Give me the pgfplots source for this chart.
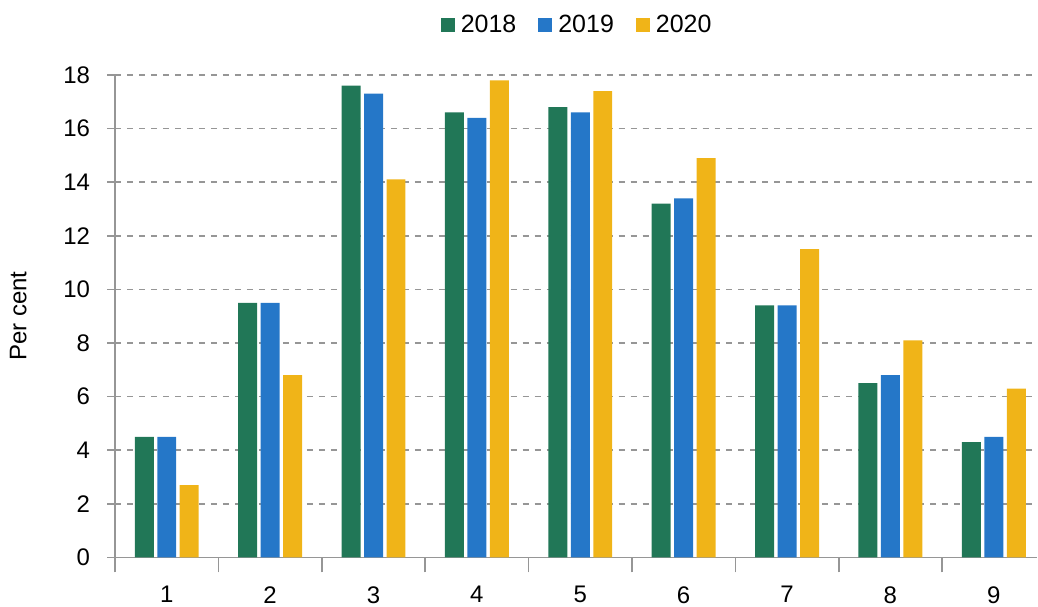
\documentclass[border=0pt]{standalone}
\usepackage{fontspec}
\setmainfont{Liberation Sans}
\usepackage{pgfplots}
\pgfplotsset{compat=1.18}
\definecolor{c2018}{RGB}{33,119,87}
\definecolor{c2019}{RGB}{37,119,200}
\definecolor{c2020}{RGB}{240,180,24}
\definecolor{gridgray}{RGB}{150,150,150}

\begin{document}
\begin{tikzpicture}
\begin{axis}[
  ybar, bar width=9.5pt, ybar=1.75pt,
  width=461.5pt, height=241.5pt, scale only axis,
  xmin=0.5, xmax=9.42, ymin=0, ymax=18,
  ytick={0,2,...,18},
  xtick={1,...,9}, major x tick style={draw=none},
  minor xtick={0.5,1.5,...,9.5},
  minor x tick style={gridgray, thick},
  minor tick length=7.5pt,
  tick align=outside,
  major tick length=4pt,
  y tick style={gridgray, thick},
  ymajorgrids, grid style={gridgray, dashed, thick},
  axis x line*=bottom, axis y line*=left,
  axis line style={gridgray, thick, -},
  font=\fontsize{12}{14}\selectfont,
  tick label style={font=\fontsize{12}{14}\selectfont},
  /pgf/number format/assume math mode=true,
  xticklabel style={inner sep=1.5pt, yshift=-8.8pt},
  yticklabel style={xshift=-5pt},
  ylabel={Per cent},
  ylabel style={inner sep=5pt, yshift=9.8pt},
  legend style={at={(0.5,1.05)}, anchor=south, draw=none, legend columns=-1,
    inner ysep=5.5pt,
    font=\fontsize{12.5}{15}\selectfont,
    nodes={inner xsep=0pt},
    /tikz/every odd column/.append style={column sep=3pt},
    /tikz/every even column/.append style={column sep=11pt}},
  legend image code/.code={\fill[#1] (0pt,-3.5pt) rectangle (7pt,3.5pt);},
]
\addplot[fill=c2018, draw=none] coordinates {
  (1,4.5) (2,9.5) (3,17.6) (4,16.6) (5,16.8) (6,13.2) (7,9.4) (8,6.5) (9,4.3)
};
\addplot[fill=c2019, draw=none] coordinates {
  (1,4.5) (2,9.5) (3,17.3) (4,16.4) (5,16.6) (6,13.4) (7,9.4) (8,6.8) (9,4.5)
};
\addplot[fill=c2020, draw=none] coordinates {
  (1,2.7) (2,6.8) (3,14.1) (4,17.8) (5,17.4) (6,14.9) (7,11.5) (8,8.1) (9,6.3)
};
\legend{2018,2019,2020}
\end{axis}
\end{tikzpicture}
\end{document}
